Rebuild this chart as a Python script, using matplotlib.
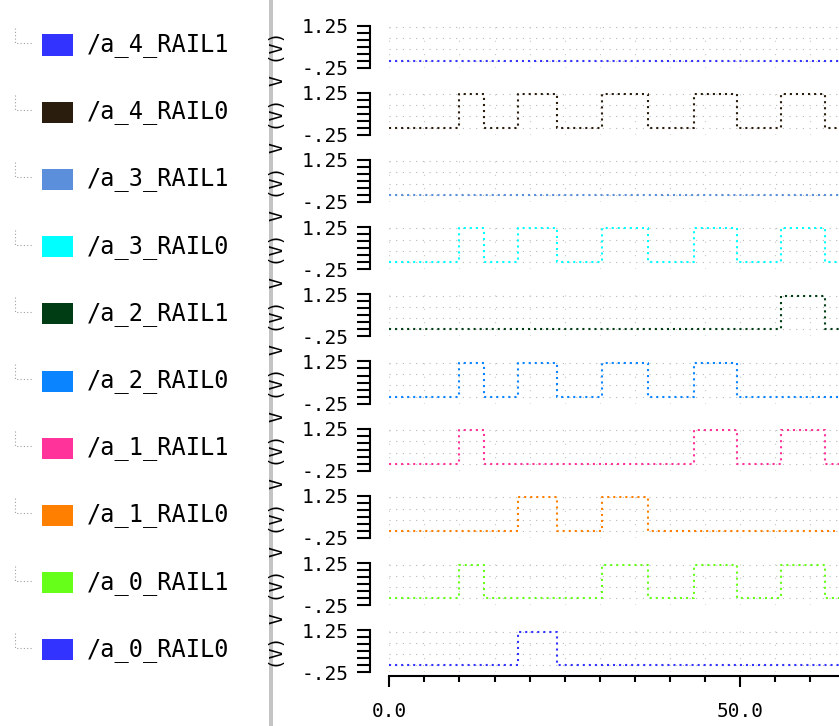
import matplotlib
matplotlib.use("Agg")
import matplotlib.pyplot as plt
from matplotlib.patches import Rectangle
from matplotlib.lines import Line2D
from matplotlib.transforms import Bbox
from matplotlib.ticker import MultipleLocator
import numpy as np

# ---------------- data ----------------
signal_names = ["/a_4_RAIL1", "/a_4_RAIL0", "/a_3_RAIL1", "/a_3_RAIL0",
                "/a_2_RAIL1", "/a_2_RAIL0", "/a_1_RAIL1", "/a_1_RAIL0",
                "/a_0_RAIL1", "/a_0_RAIL0"]
signal_colors = ["#3333ff", "#2b1d0e", "#5b8fdc", "#00ffff", "#003c14",
                 "#0a84ff", "#ff3399", "#ff8000", "#66ff1a", "#3333ff"]
# pulse windows (ns): rising and falling edge times
pulse_rise = [10.0, 18.3, 30.3, 43.4, 55.8]
pulse_fall = [13.5, 23.9, 36.8, 49.5, 62.0]
# which pulses each rail is high for
a_4_RAIL1 = [0, 0, 0, 0, 0]
a_4_RAIL0 = [1, 1, 1, 1, 1]
a_3_RAIL1 = [0, 0, 0, 0, 0]
a_3_RAIL0 = [1, 1, 1, 1, 1]
a_2_RAIL1 = [0, 0, 0, 0, 1]
a_2_RAIL0 = [1, 1, 1, 1, 0]
a_1_RAIL1 = [1, 0, 0, 1, 1]
a_1_RAIL0 = [0, 1, 1, 0, 0]
a_0_RAIL1 = [1, 0, 1, 1, 1]
a_0_RAIL0 = [0, 1, 0, 0, 0]
signal_states = [a_4_RAIL1, a_4_RAIL0, a_3_RAIL1, a_3_RAIL0, a_2_RAIL1,
                 a_2_RAIL0, a_1_RAIL1, a_1_RAIL0, a_0_RAIL1, a_0_RAIL0]
v_low, v_high = 0.0, 1.2
t_start, t_end = 0.0, 64.06
y_tick_values = [-0.25, 0.0, 0.25, 0.5, 0.75, 1.0, 1.25]
y_tick_labels = ["-.25", "", "", "", "", "", "1.25"]
y_grid_values = [0.0, 0.4, 0.8, 1.2]
x_major_ticks = [0.0, 50.0]
x_major_labels = ["0.0", "50.0"]
x_minor_step = 5.0
y_label = "V (V)"

# ---------------- layout ----------------
W, H, DPI = 839, 726, 100
fig = plt.figure(figsize=(W / DPI, H / DPI), dpi=DPI)
fig.patch.set_facecolor("white")
MONO = "DejaVu Sans Mono"

def fx(x):
    return x / W

def fy(y):
    return 1 - y / H

ROW = 67.2
AX_TOP0, AX_H = 25.5, 42.0
AX_LEFT = 389.3
PX2PT = 72.0 / DPI

# divider
fig.add_artist(Rectangle((fx(269), 0), fx(4), 1, transform=fig.transFigure,
                         facecolor="#c4c4c4", edgecolor="none"))

def waveform(states):
    xs, ys = [t_start], [v_low]
    for r, f, s in zip(pulse_rise, pulse_fall, states):
        if s:
            xs += [r, r, f, f]
            ys += [v_low, v_high, v_high, v_low]
    xs.append(t_end)
    ys.append(v_low)
    return xs, ys

clip = Bbox([[0, H - 673], [W, H]])

for k, (name, col, st) in enumerate(zip(signal_names, signal_colors, signal_states)):
    top = AX_TOP0 + ROW * k
    bot = top + AX_H
    center = top + AX_H / 2
    lab = fig.text(fx(278), fy(center + 12.5), y_label, rotation=90,
                   ha="center", va="center", family=MONO, fontsize=13,
                   color="black")
    lab.set_clip_box(clip)
    lab.set_clip_on(True)

    ax = fig.add_axes([fx(AX_LEFT), fy(bot), 1 - fx(AX_LEFT), AX_H / H])
    ax.set_facecolor("none")
    ax.set_xlim(t_start, t_end)
    ax.set_ylim(-0.25, 1.25)
    for gv in y_grid_values:
        ax.axhline(gv, color="#b8b8b8", lw=0.8, ls=(0, (1, 5)), zorder=1)
    for gx in np.arange(0, t_end, x_minor_step):
        ax.axvline(gx, color="#c8c8c8", lw=0.8, ls=(0, (1, 11)), zorder=1)
    xs, ys = waveform(st)
    ax.plot(xs, ys, color=col, lw=1.5, ls=(0, (1, 1.9)), zorder=3,
            solid_capstyle="butt", dash_capstyle="butt")
    for s in ["top", "right"]:
        ax.spines[s].set_visible(False)
    ax.spines["left"].set_position(("outward", 19 * PX2PT))
    ax.spines["left"].set_bounds(-0.25, 1.25)
    ax.spines["left"].set_linewidth(1.5)
    ax.set_yticks(y_tick_values)
    ax.set_yticklabels(y_tick_labels, family=MONO, fontsize=14)
    ax.tick_params(axis="y", direction="out", length=13 * PX2PT, width=1.5,
                   pad=9 * PX2PT)
    if k == len(signal_names) - 1:
        ax.spines["bottom"].set_position(("outward", 4 * PX2PT))
        ax.spines["bottom"].set_linewidth(1.5)
        ax.set_xticks(x_major_ticks)
        ax.set_xticklabels(x_major_labels, family=MONO, fontsize=14)
        ax.xaxis.set_minor_locator(MultipleLocator(x_minor_step))
        ax.tick_params(axis="x", which="major", direction="out",
                       length=11 * PX2PT, width=1.5, pad=15 * PX2PT)
        ax.tick_params(axis="x", which="minor", direction="out",
                       length=6 * PX2PT, width=1.5)
    else:
        ax.spines["bottom"].set_visible(False)
        ax.tick_params(axis="x", which="both", bottom=False, labelbottom=False)

    # legend row
    c = 45 + ROW * k
    fig.add_artist(Line2D([fx(15), fx(15), fx(33)], [fy(c - 17), fy(c - 2), fy(c - 2)],
                          transform=fig.transFigure, color="#a0a0a0", lw=0.8,
                          ls=(0, (1, 2))))
    fig.add_artist(Rectangle((fx(42), fy(c + 10.5)), fx(31), 21 / H,
                             transform=fig.transFigure, facecolor=col,
                             edgecolor="none"))
    fig.text(fx(87), fy(c), name, ha="left", va="center", family=MONO,
             fontsize=17, color="black")

fig.savefig("out.png", dpi=DPI)
